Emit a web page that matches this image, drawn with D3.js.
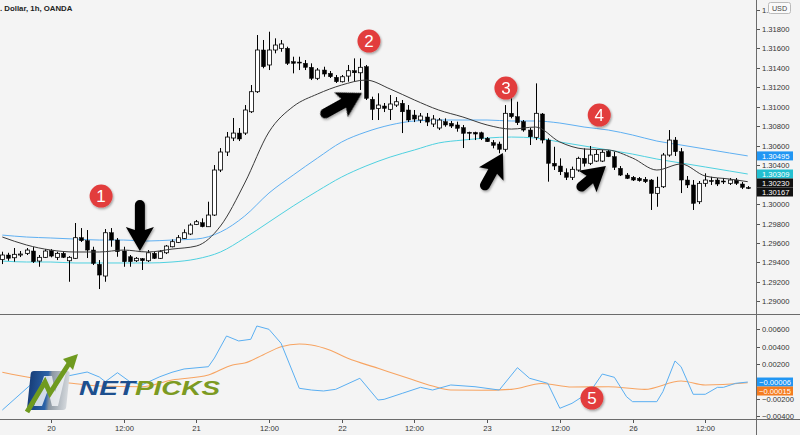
<!DOCTYPE html>
<html><head><meta charset="utf-8">
<script src="https://cdn.jsdelivr.net/npm/d3@7"></script>
<style>
html,body{margin:0;padding:0;background:#f4f4f4;}
svg{display:block;}
text{font-family:"Liberation Sans", Arial, sans-serif;}
</style></head><body>
<svg id="chart" width="800" height="435"></svg>
<script>
// ---------- DATA ----------
const title = ". Dollar, 1h, OANDA";
// hourly candles [open, high, low, close]; bar 0 = 19th 16:00, bar 8 = 20th 00:00
const candles = [
[1.29431,1.29510,1.29383,1.29476],[1.29476,1.29499,1.29417,1.29442],[1.29448,1.29548,1.29407,1.29483],[1.29481,1.29517,1.29455,1.29486],
[1.29493,1.29548,1.29476,1.29527],[1.29517,1.29558,1.29394,1.29407],[1.29414,1.29476,1.29355,1.29452],[1.29452,1.29537,1.29445,1.29517],
[1.29520,1.29537,1.29452,1.29465],[1.29452,1.29510,1.29424,1.29493],[1.29493,1.29507,1.29445,1.29452],[1.29417,1.29465,1.29201,1.29452],
[1.29442,1.29805,1.29435,1.29654],[1.29654,1.29753,1.29610,1.29623],[1.29623,1.29733,1.29445,1.29527],[1.29527,1.29561,1.29373,1.29390],
[1.29380,1.29424,1.29126,1.29270],[1.29260,1.29743,1.29201,1.29705],[1.29705,1.29753,1.29561,1.29630],[1.29630,1.29651,1.29458,1.29510],
[1.29517,1.29561,1.29355,1.29407],[1.29458,1.29476,1.29355,1.29407],[1.29417,1.29455,1.29404,1.29442],[1.29438,1.29445,1.29322,1.29417],
[1.29417,1.29527,1.29404,1.29499],[1.29493,1.29507,1.29435,1.29442],[1.29442,1.29527,1.29435,1.29510],[1.29499,1.29579,1.29486,1.29568],
[1.29561,1.29637,1.29555,1.29613],[1.29606,1.29681,1.29599,1.29654],[1.29647,1.29740,1.29640,1.29705],[1.29692,1.29802,1.29681,1.29784],
[1.29791,1.29836,1.29784,1.29818],[1.29808,1.29853,1.29761,1.29767],[1.29767,1.30024,1.29764,1.29887],[1.29887,1.30401,1.29877,1.30350],
[1.30350,1.30576,1.30329,1.30535],[1.30535,1.30741,1.30494,1.30689],[1.30679,1.30885,1.30648,1.30730],[1.30730,1.30782,1.30648,1.30669],
[1.30730,1.31018,1.30710,1.30967],[1.30949,1.31224,1.30936,1.31155],[1.31155,1.31738,1.31142,1.31584],[1.31584,1.31687,1.31396,1.31412],
[1.31430,1.31772,1.31378,1.31584],[1.31584,1.31704,1.31550,1.31635],[1.31601,1.31687,1.31566,1.31646],[1.31601,1.31618,1.31430,1.31447],
[1.31464,1.31515,1.31344,1.31447],[1.31460,1.31515,1.31378,1.31453],[1.31447,1.31481,1.31378,1.31406],[1.31406,1.31447,1.31275,1.31293],
[1.31293,1.31399,1.31275,1.31378],[1.31378,1.31412,1.31309,1.31337],[1.31344,1.31368,1.31296,1.31309],[1.31303,1.31327,1.31245,1.31258],
[1.31258,1.31327,1.31250,1.31309],[1.31316,1.31430,1.31258,1.31371],[1.31371,1.31498,1.31258,1.31350],[1.31350,1.31498,1.31173,1.31406],
[1.31412,1.31430,1.31070,1.31087],[1.31077,1.31104,1.30864,1.30974],[1.30984,1.31139,1.30864,1.31018],[1.31008,1.31039,1.30946,1.30984],
[1.30974,1.31121,1.30864,1.31029],[1.31018,1.31100,1.30998,1.31052],[1.31036,1.31070,1.30730,1.30949],[1.30967,1.31018,1.30843,1.30864],
[1.30915,1.30967,1.30843,1.30874],[1.30864,1.30936,1.30833,1.30905],[1.30895,1.30936,1.30802,1.30843],[1.30823,1.30915,1.30792,1.30874],
[1.30782,1.30885,1.30761,1.30864],[1.30847,1.30881,1.30795,1.30813],[1.30830,1.30854,1.30782,1.30802],[1.30813,1.30847,1.30744,1.30779],
[1.30785,1.30813,1.30576,1.30727],[1.30738,1.30744,1.30658,1.30730],[1.30736,1.30744,1.30658,1.30720],[1.30733,1.30744,1.30658,1.30676],
[1.30676,1.30689,1.30638,1.30641],[1.30631,1.30658,1.30573,1.30604],[1.30617,1.30641,1.30522,1.30563],[1.30563,1.31018,1.30538,1.30933],
[1.30933,1.31087,1.30881,1.30898],[1.30898,1.31052,1.30813,1.30836],[1.30847,1.30864,1.30744,1.30761],[1.30761,1.30782,1.30607,1.30692],
[1.30686,1.31241,1.30658,1.30933],[1.30926,1.30936,1.30624,1.30658],[1.30658,1.30676,1.30230,1.30419],[1.30419,1.30589,1.30350,1.30391],
[1.30391,1.30470,1.30298,1.30332],[1.30322,1.30367,1.30247,1.30275],[1.30275,1.30385,1.30247,1.30357],[1.30350,1.30487,1.30332,1.30470],
[1.30470,1.30573,1.30385,1.30419],[1.30419,1.30597,1.30401,1.30504],[1.30442,1.30556,1.30432,1.30511],[1.30442,1.30556,1.30432,1.30532],
[1.30542,1.30556,1.30483,1.30487],[1.30487,1.30538,1.30350,1.30378],[1.30367,1.30391,1.30288,1.30298],[1.30298,1.30319,1.30257,1.30264],
[1.30275,1.30288,1.30237,1.30247],[1.30264,1.30278,1.30230,1.30240],[1.30254,1.30278,1.30216,1.30230],[1.30247,1.30257,1.29939,1.30110],
[1.30110,1.30281,1.29972,1.30172],[1.30178,1.30525,1.30165,1.30504],[1.30504,1.30761,1.30487,1.30658],[1.30658,1.30689,1.30494,1.30538],
[1.30538,1.30576,1.30113,1.30247],[1.30247,1.30288,1.30165,1.30196],[1.30196,1.30247,1.29939,1.30007],[1.30024,1.30237,1.30000,1.30213],
[1.30213,1.30316,1.30178,1.30247],[1.30242,1.30281,1.30196,1.30237],[1.30247,1.30268,1.30185,1.30206],[1.30237,1.30268,1.30206,1.30232],
[1.30213,1.30268,1.30196,1.30247],[1.30247,1.30268,1.30196,1.30213],[1.30206,1.30227,1.30154,1.30172],[1.30170,1.30185,1.30154,1.30167]
];
// moving averages, read every 4 bars
const maIndex = [0,4,8,12,16,20,24,28,32,36,40,44,48,52,56,60,64,68,72,76,80,84,88,92,96,100,104,108,112,116,120,123];
const maBlack = [1.29661,1.29579,1.29527,1.29507,1.29507,1.29527,1.29507,1.29537,1.29568,1.29774,1.30216,1.30741,1.31003,1.31131,1.31224,1.31275,
 1.31183,1.31070,1.30967,1.30895,1.30813,1.30771,1.30792,1.30638,1.30566,1.30556,1.30473,1.30350,1.30412,1.30288,1.30257,1.30230];
const maBlue = [1.29681,1.29661,1.29651,1.29640,1.29630,1.29630,1.29620,1.29630,1.29640,1.29712,1.29877,1.30113,1.30298,1.30473,1.30638,1.30741,
 1.30813,1.30854,1.30864,1.30864,1.30864,1.30854,1.30854,1.30833,1.30792,1.30761,1.30710,1.30648,1.30607,1.30566,1.30525,1.30495];
const maCyan = [1.29414,1.29404,1.29404,1.29394,1.29394,1.29394,1.29394,1.29404,1.29435,1.29507,1.29651,1.29815,1.29980,1.30134,1.30278,1.30391,
 1.30483,1.30556,1.30628,1.30658,1.30679,1.30689,1.30679,1.30638,1.30597,1.30556,1.30514,1.30463,1.30422,1.30381,1.30340,1.30309];
// oscillator (bar index, value)
const oscIndex = [0,5,8,10,14,16,17,19,21,23,26,28,30,34,35,37,39,41,42,44,46,49,51,53,55,59,62,63,66,69,71,74,78,82,85,87,90,92,94,97,99,101,103,104,108,109,111,112,114,116,118,119,121,123];
const oscMain = [-0.00328,-0.00017,0.00017,0.00052,0.00109,0.00052,-0.00002,0.00101,0.0,-0.0004,0.00055,0.00106,0.00144,0.0017,0.0027,0.00523,0.00466,0.00485,0.00638,0.0060,0.00439,-0.00078,-0.00098,-0.00109,-0.0009,0.00037,-0.00213,-0.00205,-0.00136,-0.00067,-0.00098,-0.0004,-0.0006,-0.00098,0.00159,0.00037,-0.00021,-0.00308,-0.00251,-0.00117,0.00086,0.00048,-0.00175,-0.00232,-0.00232,-0.00117,0.00236,0.0017,-0.00147,-0.00147,-0.00067,-0.00067,-0.00021,-0.00006];
const sigIndex = [0,5,11,16,23,28,34,38,40,43,46,49,51,54,57,62,67,71,74,79,84,89,94,100,106,112,116,123];
const oscSignal = [0.00106,0.0004,-0.00017,-0.00052,-0.0006,0.00017,0.00075,0.0019,0.00213,0.00305,0.004,0.00431,0.0042,0.00362,0.00267,0.00152,0.00037,-0.00052,-0.00098,-0.00101,-0.0009,-0.00023,-0.00063,-0.0006,-0.0009,0.00006,-0.0004,-0.00015];
// axes
const timeTicks = [[8,"20"],[20,"12:00"],[32,"21"],[44,"12:00"],[56,"22"],[68,"12:00"],[80,"23"],[92,"12:00"],[104,"26"],[116,"12:00"]];
const priceTicks = [1.290,1.292,1.294,1.296,1.298,1.300,1.302,1.304,1.306,1.308,1.310,1.312,1.314,1.316,1.318];
const topTickText = "1.";           // 1.32000 label, mostly hidden behind the USD badge
const topTickValue = 1.320;
const oscTicks = [-0.004,-0.002,0,0.002,0.004,0.006];
const lastValues = [["blue",1.30495],["cyan",1.30309],["black",1.30230],["black",1.30167]];
const oscLast = [["blue",-0.00006],["orange",-0.00015]];
// annotations (bar index, price)
const badges = [[1,16.3,1.30082],[2,60.5,1.31676],[3,83.1,1.31193],[4,98.5,1.30915]];
const oscBadge = [5,97.3,-0.0019];
const arrows = [[22.7,1.29517,90,51],[59.35,1.31142,-29,47],[82.6,1.30525,-61,42],[99.6,1.30391,-40,37]];

// ---------- LAYOUT ----------
const W=800,H=435, axisX=756, mainB=314, oscT=315, oscB=419;
const svg=d3.select("#chart");
const x=d3.scaleLinear().domain([8,116]).range([50.8,705.3]);
const yP=d3.scaleLinear().domain([1.290,1.318]).range([301.3,29]);
const yO=d3.scaleLinear().domain([-0.004,0.006]).range([416.3,329.3]);
const COL={blue:"#2196f3",cyan:"#22bfd0",black:"#111",orange:"#f57c1f"};

svg.append("rect").attr("width",W).attr("height",H).attr("fill","#f4f4f4");
const defs=svg.append("defs");
defs.append("clipPath").attr("id","cm").append("rect").attr("x",0).attr("y",0).attr("width",axisX).attr("height",mainB);
defs.append("clipPath").attr("id","co").append("rect").attr("x",0).attr("y",oscT).attr("width",axisX).attr("height",oscB-oscT);
const sh=defs.append("filter").attr("id","sh").attr("x","-30%").attr("y","-30%").attr("width","160%").attr("height","160%");
sh.append("feDropShadow").attr("dx",1).attr("dy",1.5).attr("stdDeviation",1.2).attr("flood-color","#000").attr("flood-opacity",0.35);

const main=svg.append("g").attr("clip-path","url(#cm)");
function maLine(vals,color,w){
  main.append("path").datum(maIndex.map((i,k)=>[i,vals[k]]))
   .attr("fill","none").attr("stroke",color).attr("stroke-width",w)
   .attr("d",d3.line().x(d=>x(d[0])).y(d=>yP(d[1])).curve(d3.curveMonotoneX));
}
maLine(maBlue,"#5fb0f2",1);
maLine(maCyan,"#4fd1e0",1);
const cg=main.append("g");
candles.forEach((c,i)=>{
  const [o,h,l,cl]=c, cx=Math.round(x(i))+0.5, up=cl>=o;
  cg.append("line").attr("x1",cx).attr("x2",cx).attr("y1",yP(h)).attr("y2",yP(l)).attr("stroke","#000").attr("stroke-width",1);
  const top=yP(Math.max(o,cl)), bot=yP(Math.min(o,cl));
  cg.append("rect").attr("x",cx-2).attr("y",top).attr("width",4).attr("height",Math.max(1,bot-top))
    .attr("fill",up?"#fff":"#000").attr("stroke","#000").attr("stroke-width",up?0.8:0.5);
});
maLine(maBlack,"#3a3a3a",1);

// oscillator
const og=svg.append("g").attr("clip-path","url(#co)");
og.append("path").datum(sigIndex.map((i,k)=>[i,oscSignal[k]])).attr("fill","none").attr("stroke","#f7a462").attr("stroke-width",1.1)
  .attr("d",d3.line().x(d=>x(d[0])).y(d=>yO(d[1])).curve(d3.curveMonotoneX));
og.append("path").datum(oscIndex.map((i,k)=>[i,oscMain[k]])).attr("fill","none").attr("stroke","#5aaff2").attr("stroke-width",1)
  .attr("d",d3.line().x(d=>x(d[0])).y(d=>yO(d[1])));

// separators
svg.append("line").attr("x1",0).attr("x2",W).attr("y1",mainB+0.5).attr("y2",mainB+0.5).attr("stroke","#6b6b6b");
svg.append("line").attr("x1",0).attr("x2",W).attr("y1",oscB+0.5).attr("y2",oscB+0.5).attr("stroke","#6b6b6b");
svg.append("line").attr("x1",axisX+0.5).attr("x2",axisX+0.5).attr("y1",0).attr("y2",H).attr("stroke","#6b6b6b");

// value label positions (pushed apart like the reference)
function stack(list,scale){
  let prev=-1e9; return list.map(([c,v])=>{let cy=scale(v); if(cy-4.5<prev) cy=prev+4.5; prev=cy+4.5; return [c,v,cy];});
}
const pLabels=stack(lastValues,yP), oLabels=stack(oscLast,yO);
const free=(yy,labs)=>labs.every(l=>Math.abs(l[2]-yy)>=7);
const fmtP=d3.format(".5f");
const fmtO=v=>(v<0?"\u2212":"")+d3.format(".5f")(Math.abs(v));
const pa=svg.append("g");
function tick(yy,txt){
  yy=Math.round(yy)+0.5;
  pa.append("line").attr("x1",axisX+1).attr("x2",axisX+4).attr("y1",yy).attr("y2",yy).attr("stroke","#555");
  if(txt) pa.append("text").attr("x",axisX+6).attr("y",yy+2.7).attr("font-size",7.6).attr("fill","#333").text(txt);
}
priceTicks.forEach(p=>{ if(free(yP(p),pLabels)) tick(yP(p),fmtP(p)); });
tick(yP(topTickValue),topTickText);
oscTicks.forEach(v=>{ if(free(yO(v),oLabels)) tick(yO(v),fmtO(v)); });
function valueBox(c,v,cy,txt){
  pa.append("rect").attr("x",axisX+1).attr("y",cy-4.5).attr("width",36).attr("height",9).attr("fill",COL[c]);
  pa.append("text").attr("x",axisX+(v<0?3:6)).attr("y",cy+2.7).attr("font-size",7.6).attr("fill","#fff").text(txt);
}
pLabels.forEach(([c,v,cy])=>valueBox(c,v,cy,fmtP(v)));
oLabels.forEach(([c,v,cy])=>valueBox(c,v,cy,fmtO(v)));
// USD badge
pa.append("rect").attr("x",768.5).attr("y",2.5).attr("width",22).attr("height",11).attr("rx",2).attr("fill","#fafafa").attr("stroke","#bbb");
pa.append("text").attr("x",779.5).attr("y",10.6).attr("text-anchor","middle").attr("font-size",7.2).attr("fill","#444").text("USD");

// time axis
timeTicks.forEach(([i,lab])=>{
  const xx=Math.round(x(i))+0.5;
  svg.append("line").attr("x1",xx).attr("x2",xx).attr("y1",oscB+1).attr("y2",oscB+4).attr("stroke","#555");
  svg.append("text").attr("x",xx).attr("y",431).attr("text-anchor","middle").attr("font-size",7.6).attr("fill","#333").text(lab);
});
svg.append("text").attr("x",0).attr("y",11).attr("font-size",7.8).attr("font-weight","bold").attr("fill","#222").text(title);

// arrows
const ag=svg.append("g").attr("filter","url(#sh)");
arrows.forEach(([i,p,ang,len])=>{
  const hl=24, hw=14, sw=5;
  const path=`M0,0 L${-hl},${-hw} L${-hl+3},${-sw} L${-len+sw},${-sw} A${sw},${sw} 0 0 0 ${-len+sw},${sw} L${-hl+3},${sw} L${-hl},${hw} Z`;
  ag.append("path").attr("d",path).attr("fill","#000")
    .attr("transform",`translate(${x(i)},${yP(p)}) rotate(${ang})`);
});
function badge(n,cx,cy){
  const g=svg.append("g").attr("transform",`translate(${cx},${cy})`);
  g.append("circle").attr("r",11.5).attr("fill","#e23c3c").attr("filter","url(#sh)");
  g.append("text").attr("y",6).attr("text-anchor","middle").attr("font-size",17).attr("fill","#fff").text(n);
}
badges.forEach(([n,i,p])=>badge(n,x(i),yP(p)));
badge(oscBadge[0],x(oscBadge[1]),yO(oscBadge[2]));

// NETPICKS logo
const lg=svg.append("g");
const gr=defs.append("linearGradient").attr("id","lgG").attr("x1","0").attr("x2","1").attr("y1","0").attr("y2","0");
gr.append("stop").attr("offset","0").attr("stop-color","#183f7a");
gr.append("stop").attr("offset","0.45").attr("stop-color","#2b62a8");
gr.append("stop").attr("offset","0.55").attr("stop-color","#8c97a2");
gr.append("stop").attr("offset","1").attr("stop-color","#d4d8dc");
lg.append("rect").attr("x",29).attr("y",371).attr("width",39).attr("height",39).attr("rx",3).attr("fill","url(#lgG)").attr("transform","skewX(-6)").attr("transform-origin","48 390");
lg.append("path").attr("d","M34,406 L44,376 L52,376 L55,392 L62,372 L66,372 L58,406 L52,406 L48,390 L42,406 Z").attr("fill","#eef1f4").attr("opacity",0.85);
lg.append("path").attr("d","M27,412 L45,382 L50,393 L70,362").attr("fill","none").attr("stroke","#6f9a1f").attr("stroke-width",5).attr("stroke-linejoin","miter");
lg.append("path").attr("d","M78,354 L63,359 L73,370 Z").attr("fill","#6f9a1f");
lg.append("text").attr("x",79).attr("y",394.5).attr("font-size",20).attr("font-weight","bold").attr("font-style","italic")
  .attr("fill","#1d4f8e").attr("textLength",56).attr("lengthAdjust","spacingAndGlyphs").text("NET");
lg.append("text").attr("x",135).attr("y",394.5).attr("font-size",20).attr("font-weight","bold").attr("font-style","italic")
  .attr("fill","#7c9a22").attr("textLength",85).attr("lengthAdjust","spacingAndGlyphs").text("PICKS");
</script>
</body></html>
